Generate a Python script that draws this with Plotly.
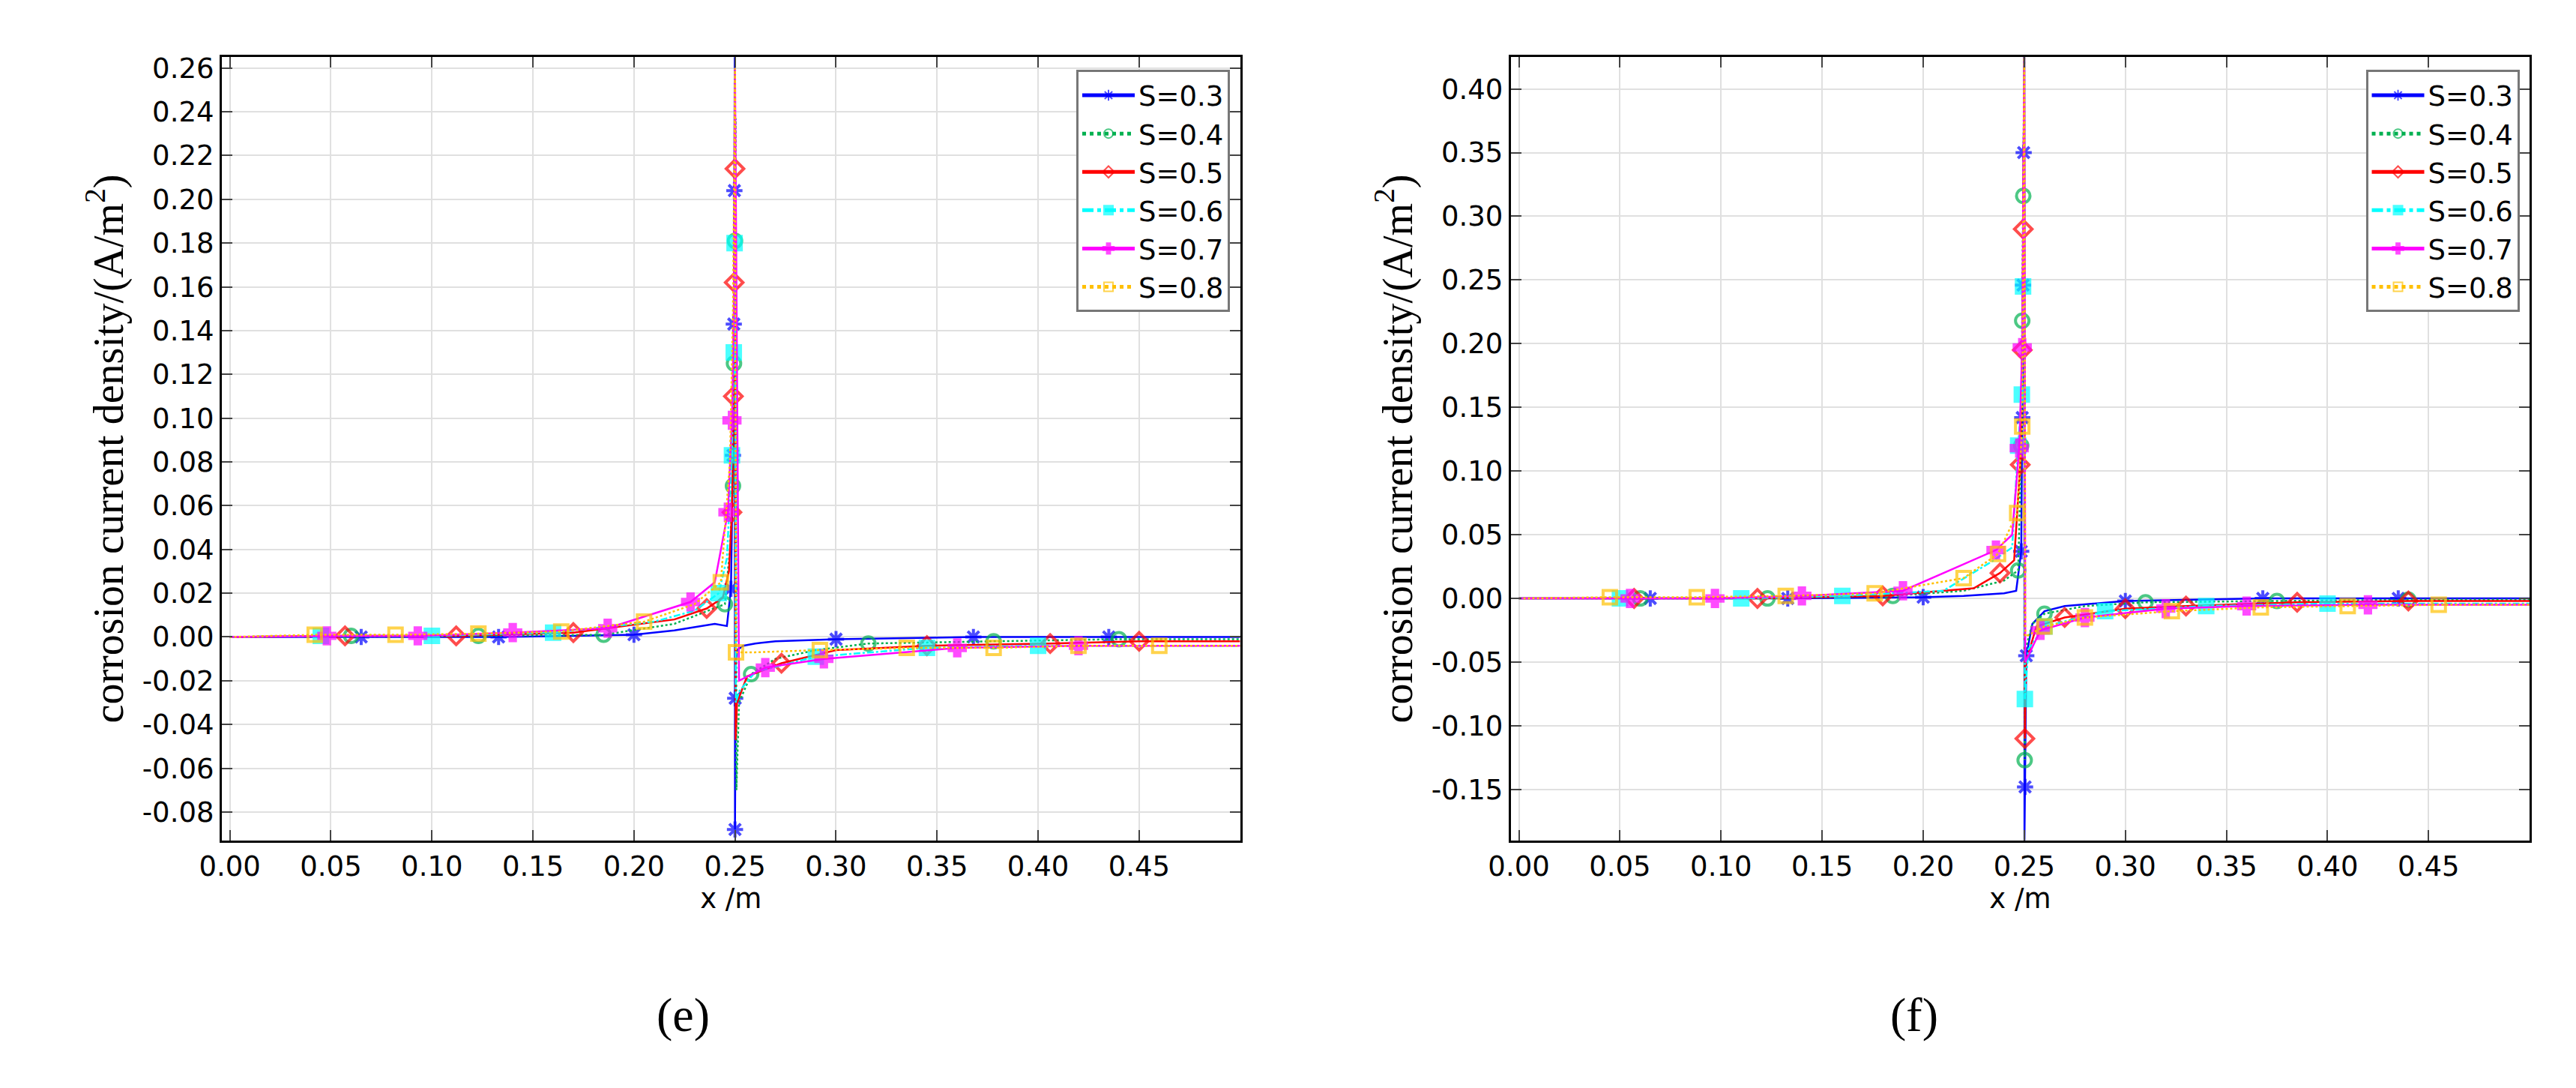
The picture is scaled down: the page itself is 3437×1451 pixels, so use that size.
import plotly.graph_objects as go

labels = ["S=0.3", "S=0.4", "S=0.5", "S=0.6", "S=0.7", "S=0.8"]
colors = ["#0000ff", "#00b050", "#ff0000", "#00ffff", "#ff00ff", "#ffc000"]
dashes = ["solid", "dot", "solid", "dashdot", "solid", "dot"]
symbols = ["asterisk-open", "circle-open", "diamond-open", "square", "cross", "square-open"]

# ---- panel (e) data ----
e_x = {
 "S=0.3": [0, 0.065, 0.133, 0.20, 0.22, 0.24, 0.246, 0.248, 0.249, 0.2494, 0.2497, 0.2499, 0.25, 0.2501, 0.2504, 0.251, 0.254, 0.26, 0.27, 0.30, 0.368, 0.435, 0.5],
 "S=0.4": [0, 0.06, 0.123, 0.185, 0.22, 0.24, 0.245, 0.2475, 0.249, 0.2495, 0.25, 0.2503, 0.2507, 0.252, 0.258, 0.27, 0.29, 0.316, 0.378, 0.44, 0.5],
 "S=0.5": [0, 0.057, 0.112, 0.17, 0.22, 0.236, 0.244, 0.247, 0.2485, 0.2492, 0.2496, 0.25, 0.2503, 0.251, 0.256, 0.273, 0.30, 0.345, 0.406, 0.45, 0.5],
 "S=0.6": [0, 0.045, 0.1, 0.16, 0.21, 0.23, 0.242, 0.246, 0.2485, 0.2494, 0.2498, 0.25, 0.2504, 0.252, 0.26, 0.29, 0.345, 0.4, 0.5],
 "S=0.7": [0, 0.048, 0.093, 0.14, 0.187, 0.228, 0.240, 0.2465, 0.2485, 0.2495, 0.25, 0.252, 0.265, 0.294, 0.36, 0.42, 0.5],
 "S=0.8": [0, 0.042, 0.082, 0.123, 0.164, 0.205, 0.23, 0.243, 0.2475, 0.249, 0.25, 0.2505, 0.26, 0.292, 0.335, 0.378, 0.42, 0.46, 0.5],
}
e_y = {
 "S=0.3": [0, 0, 0, 0.001, 0.003, 0.006, 0.005, 0.022, 0.083, 0.143, 0.204, 0.27, -0.088, -0.028, -0.012, -0.006, -0.004, -0.003, -0.002, -0.001, 0, 0, 0],
 "S=0.4": [0, 0.0005, 0.0005, 0.001, 0.006, 0.013, 0.015, 0.04, 0.069, 0.125, 0.181, 0.237, -0.07, -0.03, -0.017, -0.01, -0.006, -0.003, -0.002, -0.001, -0.001],
 "S=0.5": [0, 0.0005, 0.0005, 0.002, 0.008, 0.013, 0.018, 0.03, 0.057, 0.11, 0.162, 0.214, -0.047, -0.03, -0.018, -0.012, -0.006, -0.004, -0.003, -0.002, -0.002],
 "S=0.6": [0, 0.0005, 0.0005, 0.002, 0.007, 0.012, 0.02, 0.036, 0.083, 0.13, 0.18, 0.26, -0.03, -0.025, -0.016, -0.009, -0.005, -0.004, -0.004],
 "S=0.7": [0, 0.0005, 0.0005, 0.002, 0.004, 0.016, 0.025, 0.057, 0.099, 0.15, 0.26, -0.02, -0.014, -0.01, -0.005, -0.004, -0.004],
 "S=0.8": [0, 0.001, 0.001, 0.0015, 0.0025, 0.007, 0.015, 0.025, 0.08, 0.15, 0.26, -0.007, -0.007, -0.006, -0.005, -0.005, -0.004, -0.004, -0.004],
}
e_mark = {
 "S=0.3": [0, 1, 1, 1, 0, 0, 0, 1, 1, 1, 1, 0, 1, 1, 0, 0, 0, 0, 0, 1, 1, 1, 0],
 "S=0.4": [0, 1, 1, 1, 0, 0, 1, 0, 1, 1, 1, 0, 0, 0, 1, 0, 0, 1, 1, 1, 0],
 "S=0.5": [0, 1, 1, 1, 0, 1, 0, 0, 1, 1, 1, 1, 0, 0, 0, 1, 0, 1, 1, 1, 0],
 "S=0.6": [0, 1, 1, 1, 0, 0, 1, 0, 1, 1, 1, 0, 0, 0, 0, 1, 1, 1, 0],
 "S=0.7": [0, 1, 1, 1, 1, 1, 0, 1, 1, 0, 0, 0, 1, 1, 1, 1, 0],
 "S=0.8": [0, 1, 1, 1, 1, 1, 0, 1, 0, 0, 0, 1, 0, 1, 1, 1, 1, 1, 0],
}

# ---- panel (f) data ----
f_x = {
 "S=0.3": [0, 0.065, 0.133, 0.20, 0.22, 0.24, 0.246, 0.2485, 0.249, 0.2494, 0.2497, 0.25, 0.2501, 0.2504, 0.251, 0.254, 0.26, 0.27, 0.30, 0.368, 0.435, 0.5],
 "S=0.4": [0, 0.06, 0.123, 0.185, 0.22, 0.24, 0.247, 0.2485, 0.249, 0.2495, 0.2498, 0.25, 0.2502, 0.2506, 0.254, 0.26, 0.28, 0.31, 0.375, 0.44, 0.5],
 "S=0.5": [0, 0.057, 0.118, 0.18, 0.225, 0.238, 0.245, 0.248, 0.249, 0.2495, 0.2498, 0.25, 0.2503, 0.2508, 0.256, 0.27, 0.30, 0.33, 0.385, 0.44, 0.5],
 "S=0.6": [0, 0.05, 0.11, 0.16, 0.21, 0.235, 0.244, 0.247, 0.2488, 0.2494, 0.2498, 0.25, 0.2503, 0.252, 0.26, 0.29, 0.34, 0.4, 0.5],
 "S=0.7": [0, 0.055, 0.097, 0.14, 0.19, 0.236, 0.244, 0.2475, 0.249, 0.25, 0.2505, 0.258, 0.28, 0.32, 0.36, 0.42, 0.5],
 "S=0.8": [0, 0.045, 0.088, 0.132, 0.176, 0.22, 0.237, 0.2465, 0.249, 0.25, 0.2505, 0.26, 0.28, 0.323, 0.367, 0.41, 0.455, 0.5],
}
f_y = {
 "S=0.3": [0, 0, 0, 0.001, 0.002, 0.004, 0.006, 0.037, 0.142, 0.246, 0.35, 0.43, -0.19, -0.148, -0.045, -0.02, -0.01, -0.006, -0.002, 0, 0, 0],
 "S=0.4": [0, 0, 0, 0.002, 0.006, 0.014, 0.022, 0.12, 0.218, 0.316, 0.36, 0.43, -0.127, -0.04, -0.02, -0.012, -0.006, -0.003, -0.002, -0.001, -0.001],
 "S=0.5": [0, 0, 0, 0.002, 0.008, 0.02, 0.03, 0.105, 0.195, 0.29, 0.35, 0.43, -0.11, -0.05, -0.022, -0.015, -0.008, -0.006, -0.003, -0.002, -0.002],
 "S=0.6": [0, 0, 0, 0.002, 0.006, 0.03, 0.04, 0.12, 0.16, 0.245, 0.3, 0.43, -0.079, -0.04, -0.022, -0.01, -0.006, -0.004, -0.004],
 "S=0.7": [0, 0, 0, 0.002, 0.006, 0.038, 0.05, 0.118, 0.197, 0.43, -0.05, -0.025, -0.015, -0.008, -0.006, -0.005, -0.005],
 "S=0.8": [0, 0.001, 0.001, 0.002, 0.004, 0.016, 0.035, 0.067, 0.135, 0.43, -0.03, -0.022, -0.015, -0.01, -0.007, -0.006, -0.005, -0.005],
}
f_mark = {
 "S=0.3": [0, 1, 1, 1, 0, 0, 0, 1, 1, 1, 1, 0, 0, 1, 1, 0, 0, 0, 1, 1, 1, 0],
 "S=0.4": [0, 1, 1, 1, 0, 0, 1, 1, 1, 1, 0, 0, 1, 0, 0, 1, 0, 1, 1, 1, 0],
 "S=0.5": [0, 1, 1, 1, 0, 1, 0, 1, 1, 1, 0, 0, 1, 0, 0, 1, 1, 1, 1, 1, 0],
 "S=0.6": [0, 1, 1, 1, 0, 0, 0, 1, 1, 1, 0, 0, 1, 0, 1, 1, 1, 1, 0],
 "S=0.7": [0, 1, 1, 1, 1, 1, 0, 1, 1, 0, 0, 1, 1, 1, 1, 1, 0],
 "S=0.8": [0, 1, 1, 1, 1, 1, 1, 1, 1, 0, 0, 1, 1, 1, 1, 1, 1, 0],
}

e_yticks = [round(-0.08 + 0.02 * i, 2) for i in range(18)]
f_yticks = [round(-0.15 + 0.05 * i, 2) for i in range(12)]
xticks = [0.0, 0.05, 0.10, 0.15, 0.20, 0.25, 0.30, 0.35, 0.40, 0.45]

fig = go.Figure()
for panel, (X, Y, M, xa, ya, lg) in enumerate([(e_x, e_y, e_mark, "x", "y", "legend"),
                                              (f_x, f_y, f_mark, "x2", "y2", "legend2")]):
    for i, s in enumerate(labels):
        fig.add_trace(go.Scatter(
            x=X[s], y=Y[s], mode="lines+markers", name=s, legend=lg,
            xaxis=xa, yaxis=ya,
            line=dict(color=colors[i], width=2.5, dash=dashes[i]),
            marker=dict(symbol=symbols[i], size=[18 * m for m in M[s]], color=colors[i],
                        line=dict(color=colors[i], width=4)),
        ))

axfont = dict(family="DejaVu Sans", size=37, color="black")
common_x = dict(range=[-0.004, 0.5], tickvals=xticks, ticktext=[f"{v:.2f}" for v in xticks],
                showgrid=True, gridcolor="#e0e0e0", gridwidth=2, showline=True, linecolor="black",
                linewidth=3, mirror="ticks", ticks="inside", ticklen=14, tickwidth=2,
                tickfont=axfont, zeroline=False,
                title=dict(text="x /m", font=axfont, standoff=2))
common_y = dict(showgrid=True, gridcolor="#e0e0e0", gridwidth=2, showline=True, linecolor="black",
                linewidth=3, mirror="ticks", ticks="inside", ticklen=14, tickwidth=2,
                tickfont=axfont, zeroline=False,
                title=dict(text="corrosion current density/(A/m<sup>2</sup>)",
                           font=dict(family="Liberation Serif", size=56, color="black"), standoff=8))

legend_style = dict(font=dict(family="DejaVu Sans", size=37, color="black"), bgcolor="white",
                    bordercolor="#777777", borderwidth=3, xanchor="right", yanchor="top",
                    tracegroupgap=0, itemwidth=70, itemsizing="constant")

fig.update_layout(
    width=3437, height=1451, paper_bgcolor="white", plot_bgcolor="white",
    margin=dict(l=0, r=0, t=0, b=0),
    xaxis=dict(domain=[0.0757, 0.4745], anchor="y", **common_x),
    yaxis=dict(domain=[0.234, 0.957], anchor="x", range=[-0.093, 0.265],
               tickvals=e_yticks, ticktext=[f"{v:.2f}" for v in e_yticks], **common_y),
    xaxis2=dict(domain=[0.5805, 0.9795], anchor="y2", **common_x),
    yaxis2=dict(domain=[0.234, 0.957], anchor="x2", range=[-0.19, 0.425],
                tickvals=f_yticks, ticktext=[f"{v:.2f}" for v in f_yticks], **common_y),
    legend=dict(x=0.4705, y=0.945, **legend_style),
    legend2=dict(x=0.9755, y=0.945, **legend_style),
    annotations=[
        dict(text="(e)", x=0.2455, y=0.047, xref="paper", yref="paper", showarrow=False,
             font=dict(family="Liberation Serif", size=64, color="black")),
        dict(text="(f)", x=0.7485, y=0.047, xref="paper", yref="paper", showarrow=False,
             font=dict(family="Liberation Serif", size=64, color="black")),
    ],
)

fig.write_html("out.html")
